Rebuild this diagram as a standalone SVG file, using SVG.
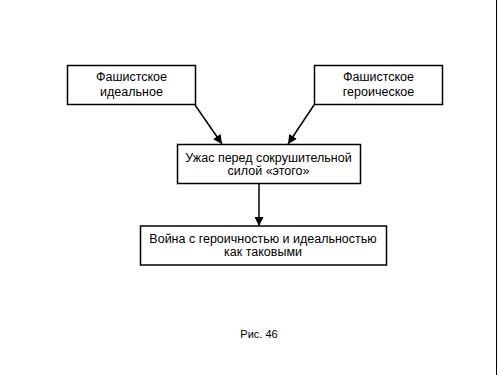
<svg xmlns="http://www.w3.org/2000/svg" width="500" height="375" viewBox="0 0 500 375">
<style>
.box{fill:#fff;stroke:#000;stroke-width:1.5}
.t{font-family:"Liberation Sans",Arial,sans-serif;font-size:12.5px;fill:#000;text-anchor:middle}
.c{stroke:#000;stroke-width:1.5;fill:none}
</style>
<defs>
<marker id="ah" viewBox="0 0 10 10" refX="10" refY="5" markerWidth="10" markerHeight="9" markerUnits="userSpaceOnUse" orient="auto">
<path d="M0,0 L10,5 L0,10 Z" fill="#000"/>
</marker>
</defs>
<rect width="500" height="375" fill="#fff"/>
<line x1="496.5" y1="0" x2="496.5" y2="375" stroke="#000" stroke-width="1"/>
<g id="connectors">
<line class="c" x1="195" y1="105" x2="222" y2="144" marker-end="url(#ah)"/>
<line class="c" x1="314" y1="105" x2="288" y2="144" marker-end="url(#ah)"/>
<line class="c" x1="259" y1="184" x2="259" y2="226" marker-end="url(#ah)"/>
</g>
<g id="n1">
<rect class="box" x="67.5" y="65.5" width="128" height="39"/>
<text class="t" x="131.5" y="81">Фашистское</text>
<text class="t" x="131.5" y="96">идеальное</text>
</g>
<g id="n2">
<rect class="box" x="314.5" y="65.5" width="128" height="39"/>
<text class="t" x="378.5" y="81">Фашистское</text>
<text class="t" x="378.5" y="96">героическое</text>
</g>
<g id="n3">
<rect class="box" x="177.5" y="144.5" width="183" height="39"/>
<text class="t" x="268.5" y="162">Ужас перед сокрушительной</text>
<text class="t" x="268.5" y="175">силой «этого»</text>
</g>
<g id="n4">
<rect class="box" x="140.5" y="226" width="246" height="39"/>
<text class="t" x="263" y="243">Война с героичностью и идеальностью</text>
<text class="t" x="263" y="256">как таковыми</text>
</g>
<text class="t" x="259" y="338" style="font-size:11px">Рис. 46</text>
</svg>
